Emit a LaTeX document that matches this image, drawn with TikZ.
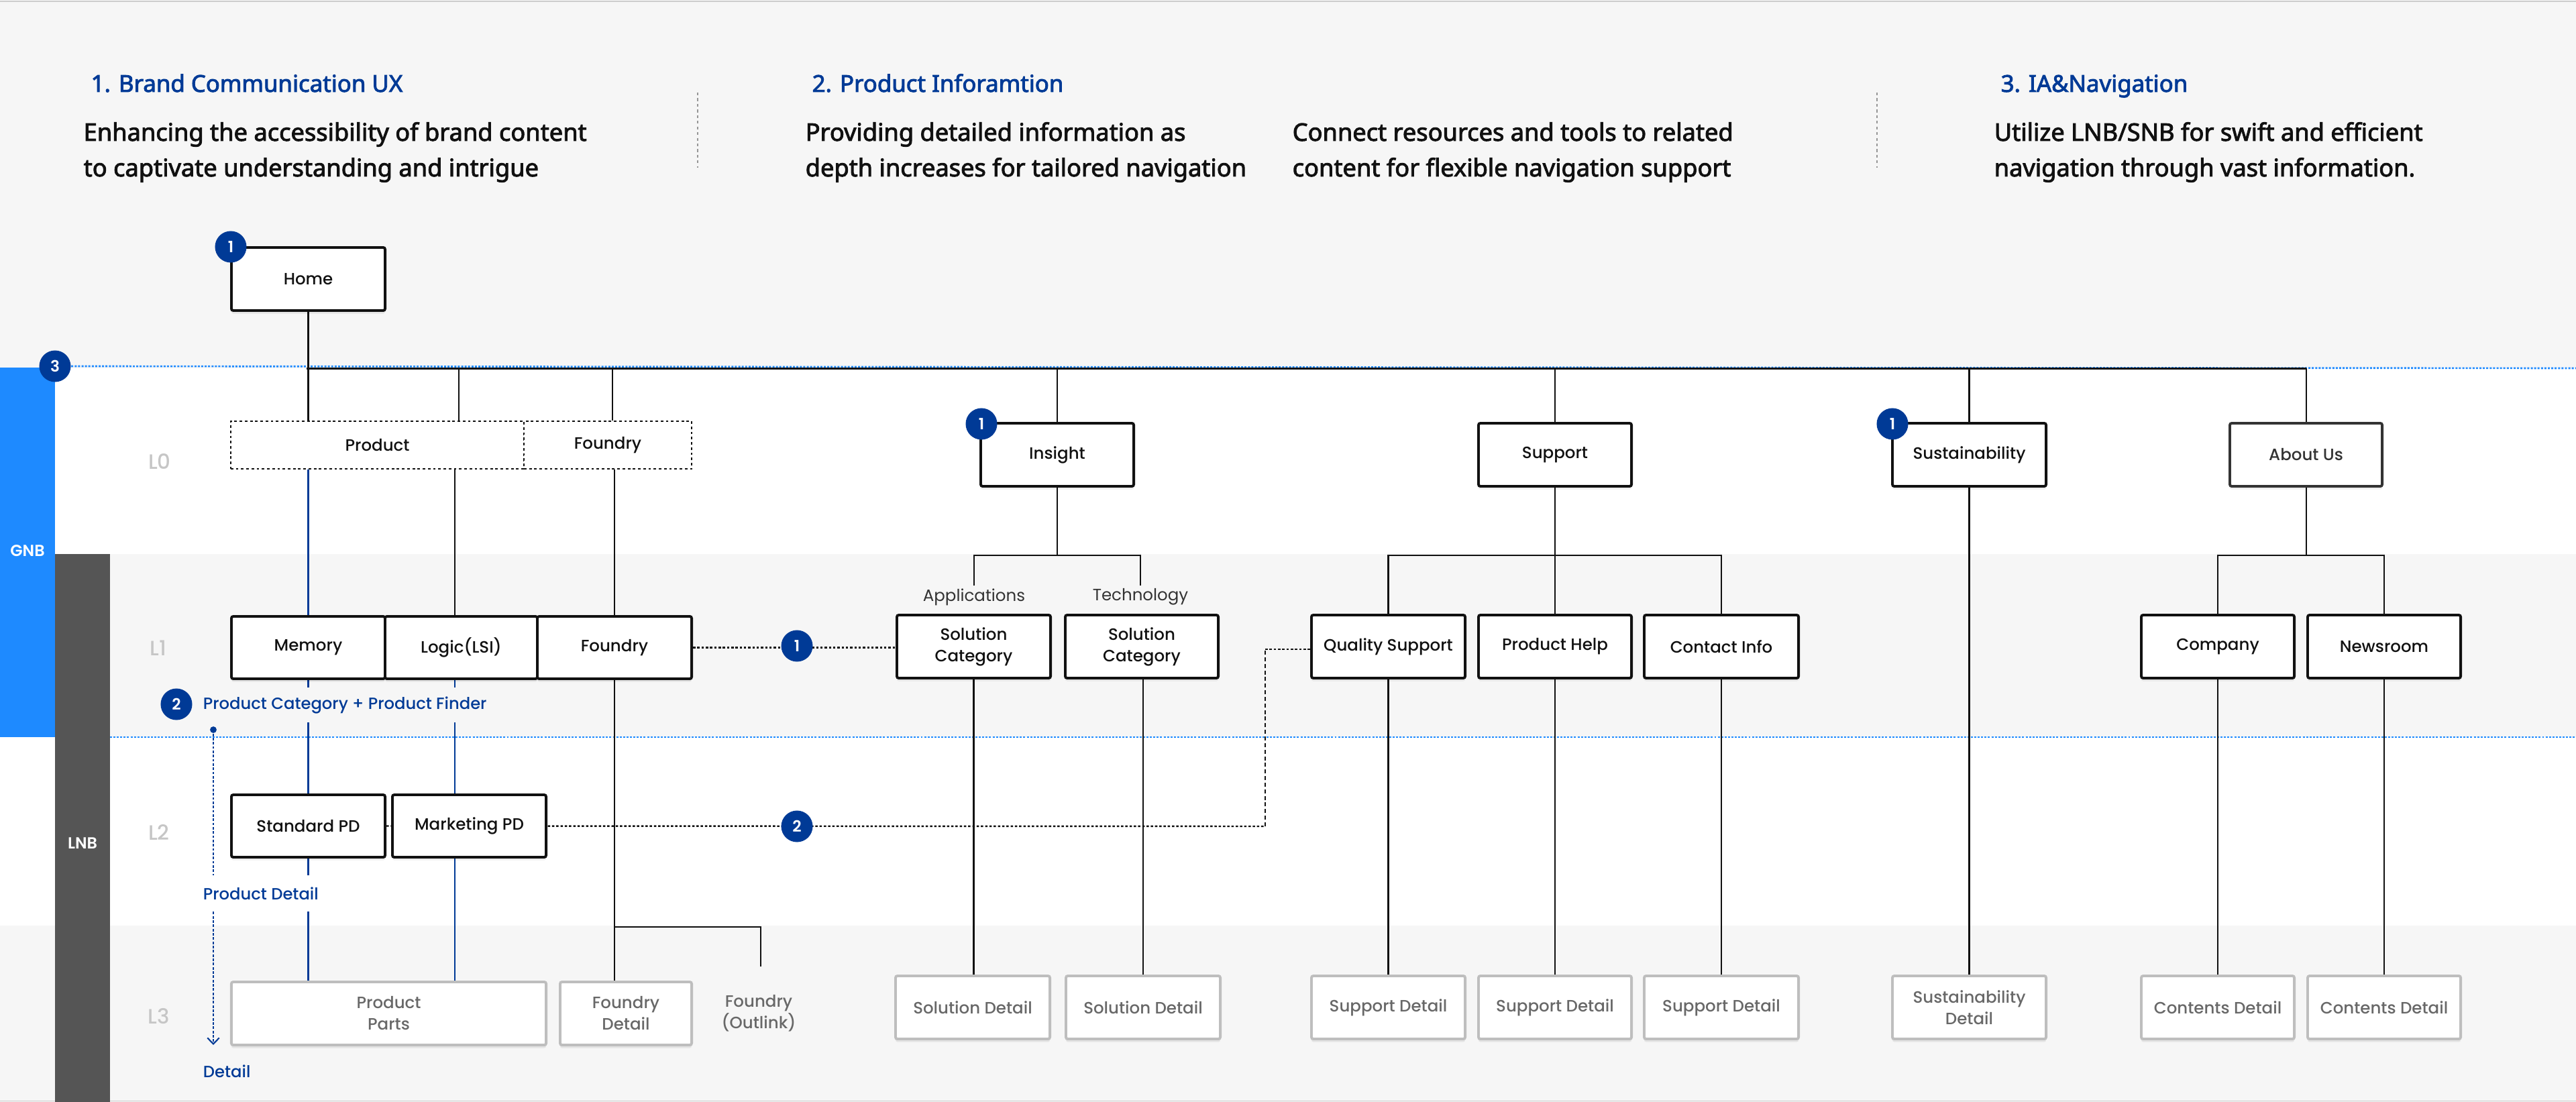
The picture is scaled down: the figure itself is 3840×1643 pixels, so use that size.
\documentclass[tikz,border=0pt]{standalone}
\usepackage{fontspec}
\setmainfont{Poppins}
\newfontfamily\popm{Poppins Medium}
\newfontfamily\pops{Poppins SemiBold}
\newfontfamily\hdr{Noto Sans}[FakeBold=2.6]
\usetikzlibrary{arrows.meta,shadows}
\pgfdeclarelayer{back}
\pgfdeclarelayer{lines}
\pgfsetlayers{back,lines,main}
\definecolor{navy}{RGB}{0,58,150}
\definecolor{gnbblue}{RGB}{30,138,255}
\definecolor{lnbgrey}{RGB}{85,85,85}
\definecolor{bggrey}{RGB}{246,246,246}
\definecolor{lvlgrey}{RGB}{198,198,198}
\definecolor{detgrey}{RGB}{190,190,190}
\definecolor{dettext}{RGB}{104,104,104}
\definecolor{sepgrey}{RGB}{150,150,150}
\definecolor{edgegrey}{RGB}{205,205,205}
\definecolor{ink}{RGB}{17,17,17}
\begin{document}
\begin{tikzpicture}[x=0.01cm,y=-0.01cm,
  conn/.style={line width=0.6pt, draw=ink},
  navyline/.style={line width=0.6pt, draw=navy},
  nbox/.style={rectangle, draw=ink, line width=1.1pt, fill=white, rounded corners=0.8pt, minimum width=2.29cm, minimum height=0.94cm, inner sep=0pt, align=center, text=ink, font=\popm\fontsize{6.97pt}{9.1pt}\selectfont, drop shadow={shadow xshift=0pt, shadow yshift=-1.3pt, opacity=0.07, fill=black}},
  dbox/.style={nbox, draw=detgrey, text=dettext},
  l0box/.style={rectangle, draw=ink, line width=0.7pt, dash pattern=on 1.1pt off 1.1pt, fill=white, minimum height=0.71cm, inner sep=0pt, text=ink, font=\popm\fontsize{6.97pt}{9.1pt}\selectfont},
  badge/.style={circle, fill=navy, text=white, minimum size=0.47cm, inner sep=0pt, font=\pops\fontsize{6.6pt}{7pt}\selectfont},
  lvl/.style={text=lvlgrey, font=\popm\fontsize{8.8pt}{10pt}\selectfont, inner sep=0pt},
  barlabel/.style={text=white, font=\pops\fontsize{6.8pt}{8pt}\selectfont, inner sep=0pt},
  bluelabel/.style={text=navy, font=\popm\fontsize{6.9pt}{8pt}\selectfont, inner ysep=0pt, inner xsep=1.5pt},
  sublabel/.style={text=black!80, font=\fontsize{6.97pt}{8pt}\selectfont, inner sep=1pt},
  outtext/.style={align=center, text=dettext, font=\popm\fontsize{6.97pt}{9.1pt}\selectfont, inner sep=0pt},
  head/.style={anchor=base west, inner sep=0pt, text=navy, font=\hdr\fontsize{9.9pt}{11pt}\selectfont},
  body/.style={anchor=base west, inner sep=0pt, text=ink, font=\hdr\fontsize{10.3pt}{12pt}\selectfont},
  gnbdot/.style={draw=gnbblue, line width=0.75pt, dash pattern=on 0.85pt off 0.6pt},
  dotlink/.style={draw=ink, line width=0.7pt, dash pattern=on 1pt off 0.8pt},
  dashlink/.style={draw=ink, line width=0.45pt, dash pattern=on 1.7pt off 1.1pt},
  bluedash/.style={draw=navy, line width=0.6pt, dash pattern=on 1.1pt off 0.7pt},
  sepline/.style={draw=sepgrey, line width=0.4pt, dash pattern=on 1.2pt off 1.2pt}
]
\useasboundingbox (0,0) rectangle (3840,1643);

% ---------- backgrounds ----------
\begin{pgfonlayer}{back}
\fill[bggrey] (0,0) rectangle (3840,549);
\fill[white] (0,549) rectangle (3840,826);
\fill[bggrey] (0,826) rectangle (3840,1099);
\fill[white] (0,1099) rectangle (3840,1380);
\fill[bggrey] (0,1380) rectangle (3840,1643);
\draw[edgegrey, line width=0.5pt] (0,2) -- (3840,2);
\draw[edgegrey, line width=0.5pt] (0,1641.5) -- (3840,1641.5);
\fill[gnbblue] (0,548) rectangle (82,1099);
\fill[lnbgrey] (82,826) rectangle (164,1643);
\draw[sepline] (1040,138) -- (1040,250);
\draw[sepline] (2798,138) -- (2798,250);
\end{pgfonlayer}

% ---------- header ----------
\node[head] (h1) at (135,137) {1. Brand Communication UX};
\node[body] (b1a) at (124,210) {Enhancing the accessibility of brand content};
\node[body] (b1b) at (124,263) {to captivate understanding and intrigue};
\node[head] (h2) at (1210,137) {2. Product Inforamtion};
\node[body] (b2a) at (1200,210) {Providing detailed information as};
\node[body] (b2b) at (1200,263) {depth increases for tailored navigation};
\node[body] (b3a) at (1926,210) {Connect resources and tools to related};
\node[body] (b3b) at (1926,263) {content for flexible navigation support};
\node[head] (h3) at (2982,137) {3. IA\&Navigation};
\node[body] (b4a) at (2972,210) {Utilize LNB/SNB for swift and efficient};
\node[body] (b4b) at (2972,263) {navigation through vast information.};

% ---------- side labels ----------
\node[barlabel] (gnb) at (41,821) {GNB};
\node[barlabel] (lnb) at (123,1257) {LNB};
\node[lvl] (lv0) at (238,688) {L0};
\node[lvl] (lv1) at (236,966) {L1};
\node[lvl] (lv2) at (237,1241) {L2};
\node[lvl] (lv3) at (237,1515) {L3};

% ---------- nodes ----------
\node[nbox] (home) at (459.5,416) {Home};
\node[l0box, minimum width=4.37cm] (prod) at (562.5,663.5) {Product};
\node[l0box, minimum width=2.5cm] (fnd0) at (906,663.5) {Foundry};
\node[nbox, minimum width=2.28cm] (insight) at (1576,678) {Insight};
\node[nbox, minimum width=2.28cm] (support) at (2318,678) {Support};
\node[nbox] (sustain) at (2935.5,678) {Sustainability};
\node[nbox, minimum width=2.27cm, draw=black!80, text=black!80] (about) at (3437.5,678) {About Us};

\node[nbox, minimum height=0.93cm] (memory) at (459.5,965.5) {Memory};
\node[nbox, minimum width=2.27cm, minimum height=0.93cm] (logic) at (687.5,965.5) {Logic(LSI)};
\node[nbox, minimum width=2.30cm, minimum height=0.93cm] (foundry) at (916,965.5) {Foundry};
\node[nbox] (solA) at (1451.5,964) {Solution\\Category};
\node[nbox, minimum width=2.28cm] (solT) at (1702,964) {Solution\\Category};
\node[nbox] (quality) at (2069.5,964) {Quality Support};
\node[nbox, minimum width=2.28cm] (help) at (2318,964) {Product Help};
\node[nbox, minimum width=2.30cm] (contact) at (2566,964) {Contact Info};
\node[nbox, minimum width=2.28cm] (company) at (3306,964) {Company};
\node[nbox, minimum width=2.28cm] (newsroom) at (3554,964) {Newsroom};
\node[sublabel] (appl) at (1452,890) {Applications};
\node[sublabel] (tech) at (1700,890) {Technology};

\node[nbox, minimum height=0.93cm] (stdpd) at (459.5,1231.5) {Standard PD};
\node[nbox, minimum height=0.93cm] (mktpd) at (699.5,1231.5) {Marketing PD};

\node[dbox, minimum width=4.69cm] (parts) at (579.5,1511) {Product\\Parts};
\node[dbox, minimum width=1.96cm] (fdetail) at (933,1511) {Foundry\\Detail};
\node[outtext] (outlink) at (1131,1511) {Foundry\\(Outlink)};
\node[dbox, minimum width=2.30cm] (sold1) at (1450,1502) {Solution Detail};
\node[dbox, minimum width=2.30cm] (sold2) at (1704,1502) {Solution Detail};
\node[dbox] (supd1) at (2069.5,1502) {Support Detail};
\node[dbox, minimum width=2.28cm] (supd2) at (2318,1502) {Support Detail};
\node[dbox, minimum width=2.30cm] (supd3) at (2566,1502) {Support Detail};
\node[dbox] (susd) at (2935.5,1502) {Sustainability\\Detail};
\node[dbox, minimum width=2.28cm] (cond1) at (3306,1502) {Contents Detail};
\node[dbox, minimum width=2.28cm] (cond2) at (3554,1502) {Contents Detail};

% ---------- blue annotations ----------
\node[bluelabel, anchor=west, fill=bggrey, minimum height=0.51cm] (pcat) at (297,1051) {Product Category + Product Finder};
\node[bluelabel, anchor=west, fill=white, minimum height=0.54cm] (pdet) at (297,1332) {Product Detail};
\node[bluelabel, anchor=west] (det) at (297,1597) {Detail};
\node[circle, fill=navy, inner sep=0pt, minimum size=2.8pt] (dot) at (318,1088) {};

% ---------- badges ----------
\node[badge] (bhome) at (344,368) {1};
\node[badge] (bins) at (1463,632) {1};
\node[badge] (bsus) at (2821,632) {1};
\node[badge] (bnav) at (82,546) {3};
\node[badge] (bcat) at (263,1050) {2};
\node[badge] (lk1) at (1188,963) {1};
\node[badge] (lk2) at (1188,1232) {2};

% ---------- coordinates ----------
\coordinate (gnbR) at (3840,549);
\coordinate (lnbL) at (164,1099);
\coordinate (lnbR) at (3840,1099);
\coordinate (busL) at (457,549.5);
\coordinate (busR) at (3437.5,549.5);
\coordinate (xla) at (684,549.5);
\coordinate (xfa) at (913,549.5);
\coordinate (xlb) at (678,0);
\coordinate (bus1) at (0,828);
\coordinate (otop) at (1134,1382);
\coordinate (oend) at (1134,1441);
\coordinate (l2c) at (1886,1232);
\coordinate (l2d) at (1886,968);
\coordinate (arrend) at (318,1558);

% ---------- connectors ----------
\begin{pgfonlayer}{lines}
\draw[gnbdot] (bnav.east) -- (gnbR);
\draw[gnbdot] (lnbL) -- (lnbR);
\draw[conn] (busL) -- (busR);
\draw[conn] (home.south) -- (home.south |- prod.north);
\draw[conn] (xla) -- (xla |- prod.north);
\draw[conn] (xfa) -- (xfa |- fnd0.north);
\draw[conn] (insight.north |- busL) -- (insight.north);
\draw[conn] (support.north |- busL) -- (support.north);
\draw[conn] (sustain.north |- busL) -- (sustain.north);
\draw[conn] (about.north |- busL) -- (about.north);
% product branch
\draw[navyline] (memory.north |- prod.south) -- (memory.north);
\draw[conn] (xlb |- prod.south) -- (xlb |- logic.north);
\draw[conn] (foundry.north |- fnd0.south) -- (foundry.north);
\draw[navyline] (memory.south) -- (stdpd.north);
\draw[navyline] (xlb |- logic.south) -- (xlb |- mktpd.north);
\draw[navyline] (stdpd.south) -- (stdpd.south |- parts.north);
\draw[navyline] (xlb |- mktpd.south) -- (xlb |- parts.north);
\draw[conn] (foundry.south) -- (foundry.south |- fdetail.north);
\draw[conn] (foundry.south |- otop) -- (otop) -- (oend);
% insight
\draw[conn] (insight.south) -- (insight.south |- bus1);
\draw[conn] (appl.north) -- (appl.north |- bus1) -- (tech.north |- bus1) -- (tech.north);
\draw[conn] (solA.south) -- (solA.south |- sold1.north);
\draw[conn] (sold2.north |- solT.south) -- (sold2.north);
% support
\draw[conn] (support.south) -- (help.north);
\draw[conn] (quality.north) -- (quality.north |- bus1) -- (contact.north |- bus1) -- (contact.north);
\draw[conn] (quality.south) -- (supd1.north);
\draw[conn] (help.south) -- (supd2.north);
\draw[conn] (contact.south) -- (supd3.north);
% sustainability
\draw[conn] (sustain.south) -- (susd.north);
% about
\draw[conn] (about.south) -- (about.south |- bus1);
\draw[conn] (company.north) -- (company.north |- bus1) -- (newsroom.north |- bus1) -- (newsroom.north);
\draw[conn] (company.south) -- (cond1.north);
\draw[conn] (newsroom.south) -- (cond2.north);
% links
\draw[dotlink] (foundry.east) -- (solA.west |- foundry.east);
\draw[dotlink] (stdpd.east) -- (l2c);
\draw[dashlink] (l2c) -- (l2d);
\draw[dotlink] (l2d) -- (quality.west |- l2d);
% depth arrow
\draw[bluedash, -{Straight Barb[length=2.6pt, width=5pt]}] (dot) -- (arrend);
\end{pgfonlayer}
\end{tikzpicture}
\end{document}
